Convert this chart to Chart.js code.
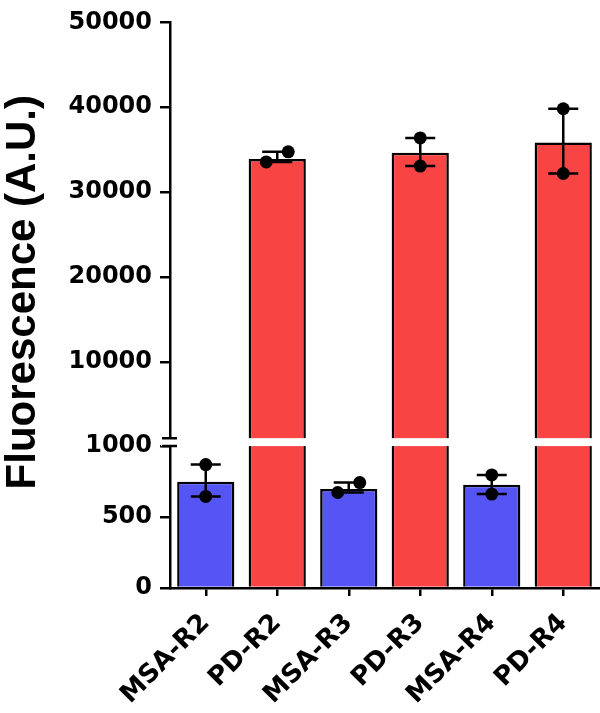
<!DOCTYPE html>
<html>
<head>
<meta charset="utf-8">
<script src="https://cdn.jsdelivr.net/npm/chart.js@4.4.1/dist/chart.umd.min.js"></script>
<style>
  html, body { margin: 0; padding: 0; background: #fff; }
</style>
</head>
<body>
<canvas id="chart" width="600" height="713"></canvas>
<script>
// data
const categories = ['MSA-R2', 'PD-R2', 'MSA-R3', 'PD-R3', 'MSA-R4', 'PD-R4'];
const meanValues = [748, 33900, 697, 34650, 727, 35830];
const replicateA = [870, 33560, 673, 36380, 797, 39820];
const replicateB = [645, 34740, 743, 33060, 662, 32190];
const lowTicks = [0, 500, 1000];
const highTicks = [10000, 20000, 30000, 40000, 50000];
const breakAt = 1000;

// styles
const blue = '#5555f5';
const red = '#f94444';
const dotRadius = 6.5;
const tickFont = { family: 'DejaVu Sans', weight: 'bold', size: 24 };
const labelFont = { family: 'DejaVu Sans', weight: 'bold', size: 26 };

const isHigh = categories.map((c, i) => meanValues[i] > breakAt);
const barColors = categories.map(c => c.startsWith('PD') ? red : blue);

function dotsFor(high) {
  const pts = [];
  categories.forEach((c, i) => {
    if (isHigh[i] !== high) return;
    pts.push({ x: c, y: replicateA[i] });
    pts.push({ x: c, y: replicateB[i] });
  });
  return pts;
}

// Prism style: nudge dots sideways when they overlap
const dotSpread = {
  id: 'dotSpread',
  afterUpdate(chart) {
    chart.data.datasets.forEach((ds, di) => {
      if (ds.type !== 'scatter') return;
      const meta = chart.getDatasetMeta(di);
      const byCat = {};
      meta.data.forEach((pt, j) => {
        const key = ds.data[j].x;
        (byCat[key] = byCat[key] || []).push(pt);
      });
      Object.values(byCat).forEach(pts => {
        if (pts.length !== 2) return;
        if (Math.abs(pts[0].y - pts[1].y) < 2 * dotRadius) {
          const lower = pts[0].y > pts[1].y ? pts[0] : pts[1];
          const upper = lower === pts[0] ? pts[1] : pts[0];
          lower.x -= 11;
          upper.x += 11;
        }
      });
    });
  }
};

// error bars = range of replicates, drawn under the dots
const errorBars = {
  id: 'errorBars',
  beforeDatasetDraw(chart, args) {
    const ds = chart.data.datasets[args.index];
    if (ds.type !== 'scatter') return;
    const high = ds.yAxisID === 'yHigh';
    const x = chart.scales.x;
    const y = chart.scales[ds.yAxisID];
    const ctx = chart.ctx;
    ctx.save();
    ctx.strokeStyle = '#000';
    ctx.lineWidth = 2.5;
    categories.forEach((c, i) => {
      if (isHigh[i] !== high) return;
      const px = x.getPixelForValue(i);
      const y1 = y.getPixelForValue(Math.max(replicateA[i], replicateB[i]));
      const y2 = y.getPixelForValue(Math.min(replicateA[i], replicateB[i]));
      ctx.beginPath();
      ctx.moveTo(px, y1); ctx.lineTo(px, y2);
      ctx.moveTo(px - 15, y1); ctx.lineTo(px + 15, y1);
      ctx.moveTo(px - 15, y2); ctx.lineTo(px + 15, y2);
      ctx.stroke();
    });
    ctx.restore();
  }
};

// white gap through the axis and the tall bars, plus the break marks
const axisBreak = {
  id: 'axisBreak',
  afterDraw(chart) {
    const hi = chart.scales.yHigh;
    const lo = chart.scales.yLow;
    const ctx = chart.ctx;
    const yTop = hi.getPixelForValue(breakAt);
    const yBot = lo.getPixelForValue(breakAt);
    const left = chart.chartArea.left;
    ctx.save();
    ctx.fillStyle = '#fff';
    ctx.fillRect(left - 9, yTop, chart.chartArea.right - left + 10, yBot - yTop);
    ctx.strokeStyle = '#000';
    ctx.lineWidth = 2.5;
    ctx.beginPath();
    ctx.moveTo(left - 8, yTop); ctx.lineTo(left + 7, yTop);
    ctx.moveTo(left - 8, yBot); ctx.lineTo(left + 7, yBot);
    ctx.stroke();

    // y title
    ctx.translate(35, (chart.chartArea.top + chart.chartArea.bottom) / 2 - 13);
    ctx.rotate(-Math.PI / 2);
    ctx.fillStyle = '#000';
    ctx.font = 'bold 42px "Liberation Sans"';
    ctx.textAlign = 'center';
    ctx.textBaseline = 'alphabetic';
    ctx.fillText('Fluorescence (A.U.)', 0, 0);
    ctx.restore();
  }
};

const axisGrid = { drawOnChartArea: false, tickLength: 10, lineWidth: 2.5, color: '#000' };
const plain = v => String(v);

new Chart(document.getElementById('chart'), {
  type: 'bar',
  data: {
    labels: categories,
    datasets: [
      {
        type: 'scatter',
        yAxisID: 'yLow',
        data: dotsFor(false),
        pointRadius: dotRadius,
        pointBackgroundColor: '#000',
        pointBorderWidth: 0,
        order: 1
      },
      {
        type: 'scatter',
        yAxisID: 'yHigh',
        data: dotsFor(true),
        pointRadius: dotRadius,
        pointBackgroundColor: '#000',
        pointBorderWidth: 0,
        order: 1
      },
      {
        yAxisID: 'yLow',
        data: meanValues.map(v => Math.min(v, 1028)),
        backgroundColor: barColors,
        borderColor: '#000',
        borderWidth: 2.5,
        grouped: false,
        barPercentage: 0.8,
        categoryPercentage: 1,
        order: 3
      },
      {
        yAxisID: 'yHigh',
        data: meanValues.map((v, i) => isHigh[i] ? v : null),
        backgroundColor: barColors,
        borderColor: '#000',
        borderWidth: 2.5,
        grouped: false,
        barPercentage: 0.8,
        categoryPercentage: 1,
        order: 3
      }
    ]
  },
  options: {
    responsive: false,
    animation: false,
    layout: { autoPadding: false, padding: { left: 0, right: 1, top: 20, bottom: 0 } },
    plugins: { legend: { display: false }, tooltip: { enabled: false } },
    scales: {
      x: {
        type: 'category',
        offset: true,
        grid: { display: true, drawOnChartArea: false, offset: false, tickLength: 8, lineWidth: 2.5, color: '#000' },
        border: { color: '#000', width: 2.5 },
        ticks: { color: '#000', font: labelFont, minRotation: 45, maxRotation: 45, padding: 12 },
        afterFit: s => { s.height = 125; s.paddingLeft = 0; s.paddingRight = 0; }
      },
      yLow: {
        type: 'linear',
        position: 'left',
        stack: 'y',
        stackWeight: 146.5,
        min: 0,
        max: 1028,
        afterBuildTicks: s => { s.ticks = lowTicks.map(v => ({ value: v })); },
        grid: axisGrid,
        border: { color: '#000', width: 2.5 },
        ticks: { color: '#000', font: tickFont, padding: 8, callback: plain },
        afterFit: s => { s.width = 170; }
      },
      yHigh: {
        type: 'linear',
        position: 'left',
        stack: 'y',
        stackWeight: 421.5,
        min: 530,
        max: 50000,
        afterBuildTicks: s => { s.ticks = highTicks.map(v => ({ value: v })); },
        grid: axisGrid,
        border: { color: '#000', width: 2.5 },
        ticks: { color: '#000', font: tickFont, padding: 8, callback: plain },
        afterFit: s => { s.width = 170; }
      }
    }
  },
  plugins: [dotSpread, errorBars, axisBreak]
});
</script>
</body>
</html>
